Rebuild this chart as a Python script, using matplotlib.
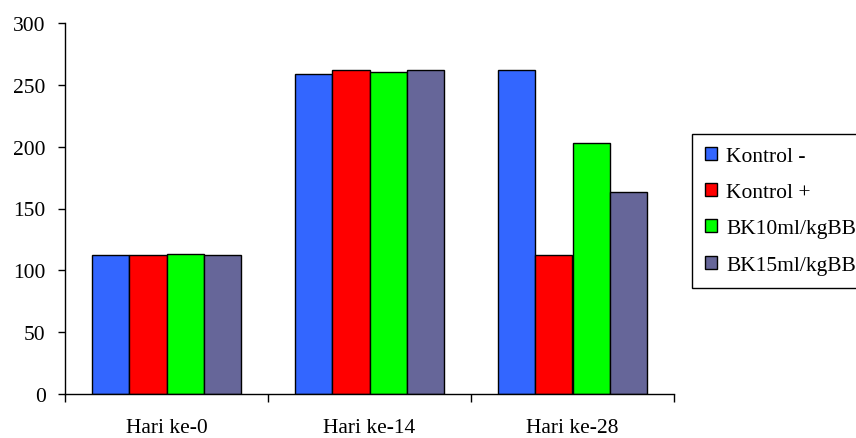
"""
Bar chart of the four treatment groups on day 0, 14 and 28.
"""

import numpy as np
import matplotlib

matplotlib.use("Agg")
import matplotlib.pyplot as plt

plt.rcParams["font.family"] = ["Liberation Serif", "DejaVu Serif"]

# Data
days = ["Hari ke-0", "Hari ke-14", "Hari ke-28"]
series_names = ["Kontrol -", "Kontrol +", "BK10ml/kgBB", "BK15ml/kgBB"]
kontrol_neg = [112, 259, 262]
kontrol_pos = [112, 262, 112]
bk10 = [113.5, 260.5, 203]
bk15 = [112, 262, 163.5]
series_values = [kontrol_neg, kontrol_pos, bk10, bk15]
colors = ["#3366FF", "#FF0000", "#00FF00", "#666699"]
y_ticks = [0, 50, 100, 150, 200, 250, 300]

fig = plt.figure(figsize=(8.56, 4.39), dpi=100)
ax = fig.add_axes([65 / 856, 44 / 439, 609 / 856, 371 / 439])

x = np.arange(len(days))
bar_width = 0.184
for i, (name, values) in enumerate(zip(series_names, series_values)):
    offset = (i - 1.5) * bar_width
    ax.bar(x + offset, values, bar_width, color=colors[i], edgecolor="black",
           linewidth=1.0, label=name)

ax.set_xlim(-0.5, len(days) - 0.5)
ax.set_ylim(0, 300)
ax.set_yticks(y_ticks)
ax.set_xticks(x)
ax.set_xticklabels(days)
ax.set_xticks(np.arange(len(days) + 1) - 0.5, minor=True)

ax.spines["top"].set_visible(False)
ax.spines["right"].set_visible(False)
for side in ["left", "bottom"]:
    ax.spines[side].set_linewidth(1.0)

ax.tick_params(axis="y", which="major", direction="out", length=5, width=1.0,
               pad=9, labelsize=15.5)
ax.tick_params(axis="x", which="major", length=0, pad=17, labelsize=15.5)
ax.tick_params(axis="x", which="minor", direction="out", length=6, width=1.0)

leg = ax.legend(loc="upper left", bbox_to_anchor=(692 / 856, 1 - 134.7 / 439),
                bbox_transform=fig.transFigure, fontsize=15.5, frameon=True,
                fancybox=False, edgecolor="black", framealpha=1,
                handlelength=0.55, handleheight=0.55, handletextpad=0.45,
                labelspacing=0.8, borderpad=0.6, borderaxespad=0)
leg.get_frame().set_linewidth(1.0)

plt.savefig("out.png", dpi=100)
